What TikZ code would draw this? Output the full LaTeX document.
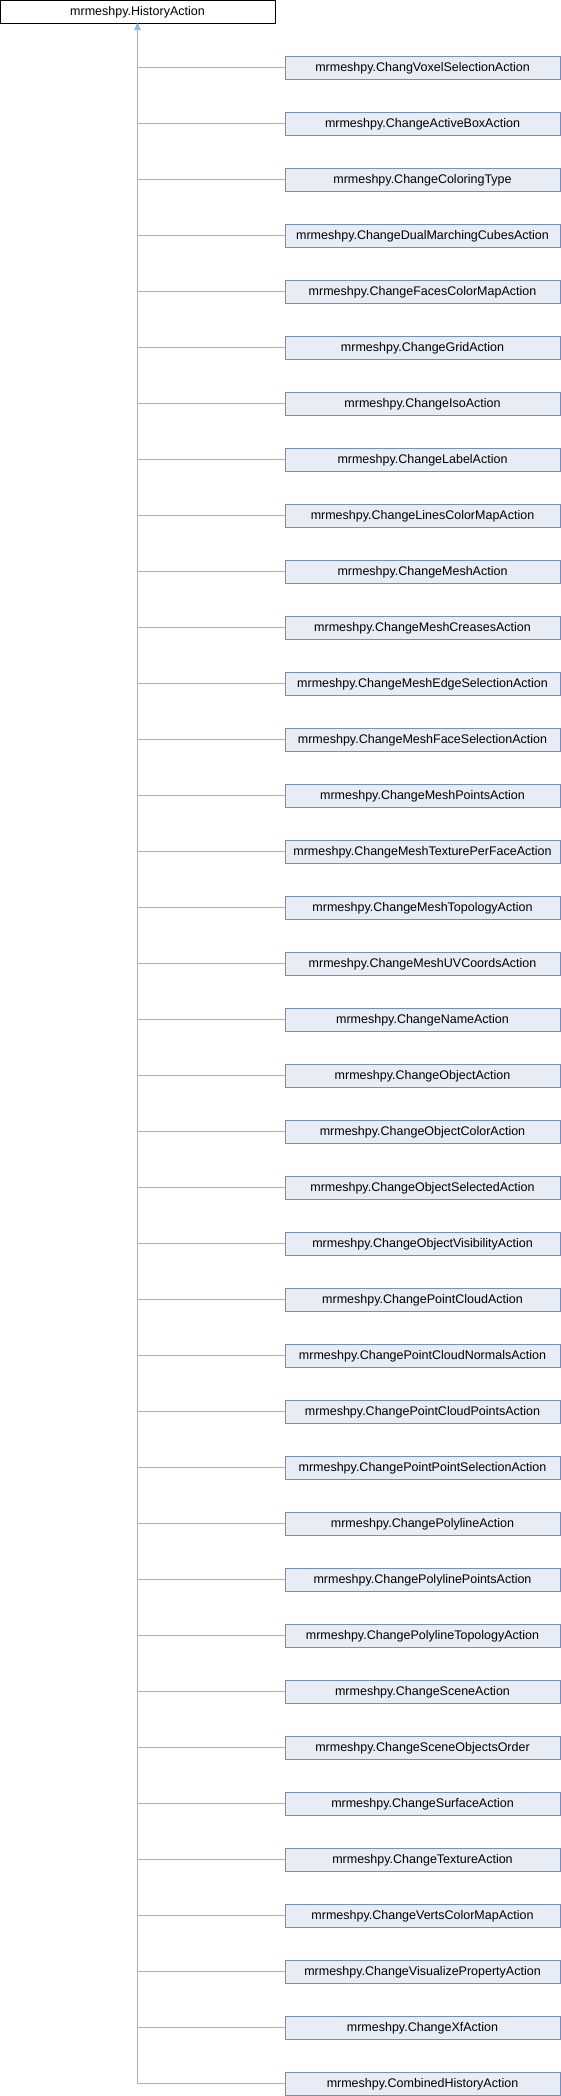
\documentclass[tikz,border=0pt]{standalone}
\usepackage{fontspec}
\setmainfont{Liberation Sans}
\usetikzlibrary{arrows.meta}
\definecolor{edgeblue}{RGB}{125,192,238}
\definecolor{boxfill}{RGB}{232,236,245}
\definecolor{boxdraw}{RGB}{118,140,196}
\tikzset{
  base/.style={rectangle, minimum width=275pt, minimum height=23pt, inner sep=0pt,
    font=\fontsize{12.5pt}{14pt}\selectfont, line width=1pt},
  rootbox/.style={base, draw=black, fill=white},
  childbox/.style={base, draw=boxdraw, fill=boxfill},
  edge/.style={draw=edgeblue, line width=1pt, {Triangle[width=5pt,length=6pt]}-}
}
\begin{document}
\begin{tikzpicture}[x=1pt,y=-1pt]
\useasboundingbox (0,0) rectangle (560,2096);
\node[rootbox] (top) at (137.5,11.8) {mrmeshpy.HistoryAction};
\foreach \name [count=\i] in {
ChangVoxelSelectionAction,
ChangeActiveBoxAction,
ChangeColoringType,
ChangeDualMarchingCubesAction,
ChangeFacesColorMapAction,
ChangeGridAction,
ChangeIsoAction,
ChangeLabelAction,
ChangeLinesColorMapAction,
ChangeMeshAction,
ChangeMeshCreasesAction,
ChangeMeshEdgeSelectionAction,
ChangeMeshFaceSelectionAction,
ChangeMeshPointsAction,
ChangeMeshTexturePerFaceAction,
ChangeMeshTopologyAction,
ChangeMeshUVCoordsAction,
ChangeNameAction,
ChangeObjectAction,
ChangeObjectColorAction,
ChangeObjectSelectedAction,
ChangeObjectVisibilityAction,
ChangePointCloudAction,
ChangePointCloudNormalsAction,
ChangePointCloudPointsAction,
ChangePointPointSelectionAction,
ChangePolylineAction,
ChangePolylinePointsAction,
ChangePolylineTopologyAction,
ChangeSceneAction,
ChangeSceneObjectsOrder,
ChangeSurfaceAction,
ChangeTextureAction,
ChangeVertsColorMapAction,
ChangeVisualizePropertyAction,
ChangeXfAction,
CombinedHistoryAction}
{
  \node[childbox] (c\i) at (422.5,{67.8+56*(\i-1)}) {mrmeshpy.\name};
  \draw[edge] (top.south) |- (c\i.west);
}
\end{tikzpicture}
\end{document}
